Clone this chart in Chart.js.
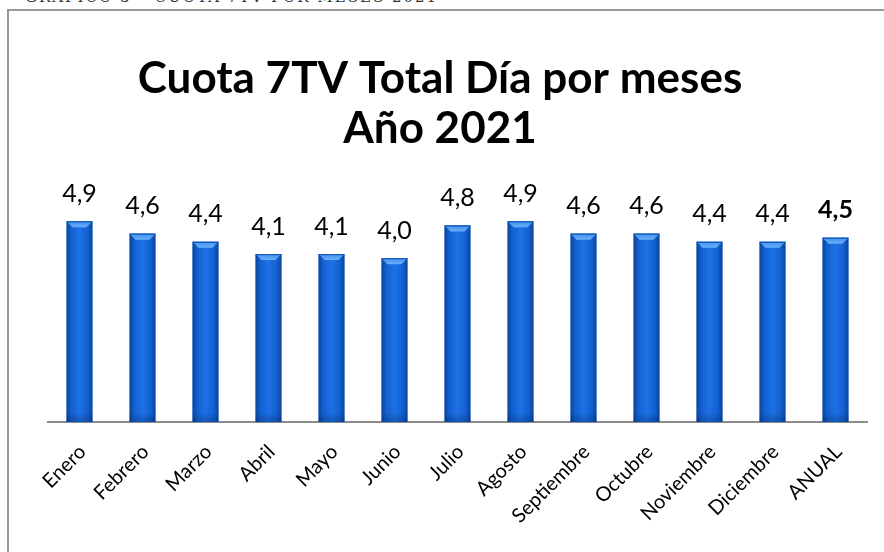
<!DOCTYPE html>
<html>
<head>
<meta charset="utf-8">
<script src="https://cdn.jsdelivr.net/npm/chart.js@4"></script>
<style>
  html, body { margin: 0; padding: 0; background: #fff; overflow: hidden; }
  #wrap { position: relative; width: 884px; height: 552px; overflow: hidden; }
  #header {
    position: absolute; left: 25px; top: -12px;
    font-family: "DejaVu Serif", "Liberation Serif", serif; font-size: 15px;
    letter-spacing: 2px; color: #333; white-space: nowrap;
  }
  #chart { position: absolute; left: 0; top: 0; }
</style>
</head>
<body>
<div id="wrap">
  <div id="header">GRÁFICO 3 – CUOTA 7TV POR MESES 2021</div>
  <canvas id="chart" width="884" height="552"></canvas>
</div>
<script>
const months = ['Enero', 'Febrero', 'Marzo', 'Abril', 'Mayo', 'Junio', 'Julio', 'Agosto',
  'Septiembre', 'Octubre', 'Noviembre', 'Diciembre', 'ANUAL'];
const share = [4.9, 4.6, 4.4, 4.1, 4.1, 4.0, 4.8, 4.9, 4.6, 4.6, 4.4, 4.4, 4.5];
const titleLines = ['Cuota 7TV Total Día por meses', 'Año 2021'];

// grey frame (left + top edges only, the rest runs off the page)
const frame = {
  id: 'frame',
  beforeDraw(chart) {
    const ctx = chart.ctx;
    ctx.save();
    ctx.strokeStyle = '#999';
    ctx.lineWidth = 2;
    ctx.beginPath();
    ctx.moveTo(8, chart.height);
    ctx.lineTo(8, 10);
    ctx.lineTo(chart.width, 10);
    ctx.stroke();
    ctx.restore();
  }
};

// bevelled bars + value labels
const barLook = {
  id: 'barLook',
  afterDatasetsDraw(chart) {
    const ctx = chart.ctx;
    const bars = chart.getDatasetMeta(0).data;
    ctx.save();
    bars.forEach((bar, i) => {
      const w = bar.width, x0 = bar.x - w / 2, x1 = bar.x + w / 2;
      const top = bar.y, bottom = bar.base;
      const g = ctx.createLinearGradient(x0, 0, x1, 0);
      g.addColorStop(0, '#0a449a');
      g.addColorStop(0.18, '#1360d0');
      g.addColorStop(0.5, '#1d72e6');
      g.addColorStop(0.82, '#1360d0');
      g.addColorStop(1, '#0a449a');
      ctx.fillStyle = g;
      ctx.fillRect(x0, top, w, bottom - top);
      // top chamfer
      const b = 6;
      ctx.beginPath();
      ctx.moveTo(x0, top);
      ctx.lineTo(x1, top);
      ctx.lineTo(x1 - b, top + b);
      ctx.lineTo(x0 + b, top + b);
      ctx.closePath();
      const tg = ctx.createLinearGradient(0, top, 0, top + b);
      tg.addColorStop(0, '#3f8ff0');
      tg.addColorStop(1, '#6ab0f7');
      ctx.fillStyle = tg;
      ctx.fill();
      ctx.fillStyle = '#0d4fae';
      ctx.fillRect(x0, top, w, 1);
      // bottom shade
      const bg = ctx.createLinearGradient(0, bottom - 10, 0, bottom);
      bg.addColorStop(0, 'rgba(5,40,100,0)');
      bg.addColorStop(1, 'rgba(5,40,100,0.35)');
      ctx.fillStyle = bg;
      ctx.fillRect(x0, bottom - 10, w, 10);
      // value label
      const last = i === bars.length - 1;
      ctx.fillStyle = '#000';
      ctx.font = (last ? 'bold ' : '') + '25px Lato, "Open Sans", sans-serif';
      ctx.textAlign = 'center';
      ctx.textBaseline = 'bottom';
      ctx.fillText(share[i].toFixed(1).replace('.', ','), bar.x, top - 15);
    });
    ctx.restore();
  }
};

new Chart(document.getElementById('chart'), {
  type: 'bar',
  data: {
    labels: months,
    datasets: [{ data: share, backgroundColor: '#1466d6', borderWidth: 0,
      categoryPercentage: 1, barPercentage: 0.41 }]
  },
  options: {
    responsive: false,
    animation: false,
    layout: { padding: { left: 13, right: 17, top: 0, bottom: 0 } },
    plugins: {
      legend: { display: false },
      tooltip: { enabled: false },
      title: {
        display: true, text: titleLines, color: '#000',
        font: { family: 'Lato, "Open Sans", sans-serif', size: 44, weight: 'bold', lineHeight: 1.14 },
        padding: { top: 54, bottom: 22 }
      }
    },
    scales: {
      x: {
        grid: { display: false },
        border: { display: true, color: '#8c8c8c', width: 2 },
        ticks: { color: '#000', maxRotation: 45, minRotation: 45, padding: 10, labelOffset: 3,
          font: { family: 'Lato, "Open Sans", sans-serif', size: 20 } },
        afterFit(s) { s.height = 130; }
      },
      y: {
        min: 0, max: 6,
        grid: { display: false },
        border: { display: false },
        ticks: { display: false },
        afterFit(s) { s.width = 35; }
      }
    }
  },
  plugins: [frame, barLook]
});
</script>
</body>
</html>
